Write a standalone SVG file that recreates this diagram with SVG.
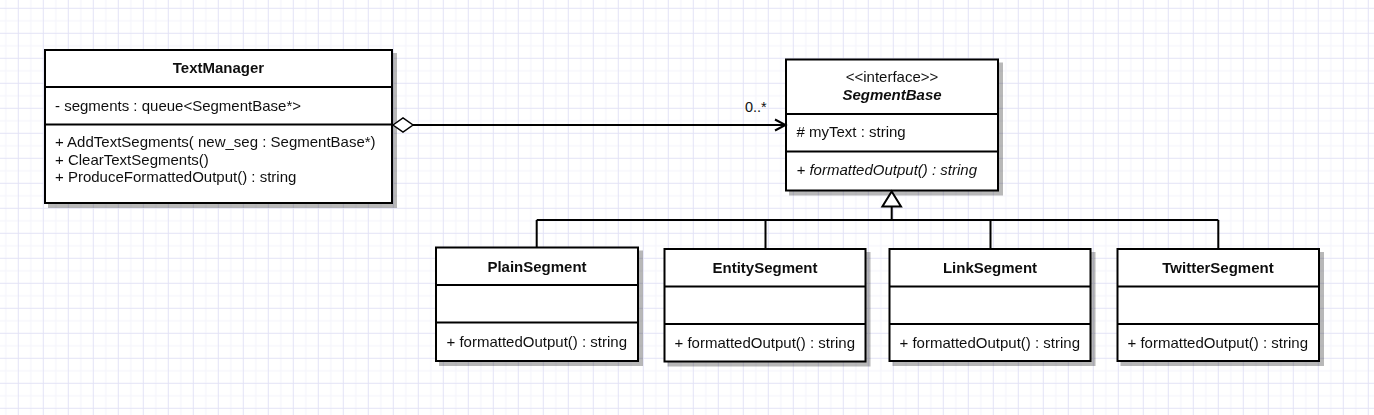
<svg xmlns="http://www.w3.org/2000/svg" width="1374" height="415" viewBox="0 0 1374 415">
<style>
.box{fill:#fff;stroke:#000;stroke-width:2}
.div{stroke:#000;stroke-width:2;fill:none}
.conn{stroke:#000;stroke-width:2;fill:none}
text{font-family:"Liberation Sans",Arial,sans-serif;font-size:15px;fill:#111}
.title{font-weight:bold;text-anchor:middle}
.mid{text-anchor:middle}
.it{font-style:italic}
.lbl{font-size:14.5px}
</style>
<defs>
<pattern id="grid" patternUnits="userSpaceOnUse" x="17.8" y="7.8" width="25" height="25">
<path d="M13 0V25M0 13H25" stroke="#f3f3fb" stroke-width="1"/>
<path d="M0.5 0V25M0 0.5H25" stroke="#e3e3f6" stroke-width="1"/>
</pattern>
<filter id="sh" x="-5%" y="-5%" width="115%" height="120%">
<feFlood flood-color="#000" flood-opacity="0.28"/>
<feComposite in2="SourceAlpha" operator="in"/>
<feOffset dx="4" dy="4" result="s"/>
<feMerge><feMergeNode in="s"/><feMergeNode in="SourceGraphic"/></feMerge>
</filter>
</defs>
<rect width="1374" height="415" fill="#fff"/>
<rect width="1374" height="415" fill="url(#grid)"/>

<g id="TextManager" filter="url(#sh)">
<rect class="box" x="45" y="50" width="347" height="153"/>
<line class="div" x1="45" y1="87" x2="392" y2="87"/>
<line class="div" x1="45" y1="124.5" x2="392" y2="124.5"/>
<text class="title" x="218.5" y="72.5">TextManager</text>
<text x="55" y="111">- segments : queue&lt;SegmentBase*&gt;</text>
<text x="55" y="147">+ AddTextSegments( new_seg : SegmentBase*)</text>
<text x="55" y="164.5">+ ClearTextSegments()</text>
<text x="55" y="182">+ ProduceFormattedOutput() : string</text>
</g>

<g id="SegmentBase" filter="url(#sh)">
<rect class="box" x="786" y="59.5" width="212" height="131"/>
<line class="div" x1="786" y1="114" x2="998" y2="114"/>
<line class="div" x1="786" y1="151.5" x2="998" y2="151.5"/>
<text class="mid" x="892" y="82">&lt;&lt;interface&gt;&gt;</text>
<text class="title it" x="892" y="99.5">SegmentBase</text>
<text x="796.5" y="137"># myText : string</text>
<text class="it" x="796.5" y="175">+ formattedOutput() : string</text>
</g>

<g id="PlainSegment" filter="url(#sh)">
<rect class="box" x="436" y="247.5" width="202" height="113.5"/>
<line class="div" x1="436" y1="285" x2="638" y2="285"/>
<line class="div" x1="436" y1="322.5" x2="638" y2="322.5"/>
<text class="title" x="537" y="272">PlainSegment</text>
<text x="446.5" y="347">+ formattedOutput() : string</text>
</g>

<g id="EntitySegment" filter="url(#sh)">
<rect class="box" x="664.5" y="249" width="201" height="112.5"/>
<line class="div" x1="664.5" y1="286.5" x2="865.5" y2="286.5"/>
<line class="div" x1="664.5" y1="324" x2="865.5" y2="324"/>
<text class="title" x="765" y="273">EntitySegment</text>
<text x="674.5" y="348">+ formattedOutput() : string</text>
</g>

<g id="LinkSegment" filter="url(#sh)">
<rect class="box" x="889.5" y="249" width="201" height="112"/>
<line class="div" x1="889.5" y1="286.5" x2="1090.5" y2="286.5"/>
<line class="div" x1="889.5" y1="324" x2="1090.5" y2="324"/>
<text class="title" x="990" y="273">LinkSegment</text>
<text x="899.5" y="348">+ formattedOutput() : string</text>
</g>

<g id="TwitterSegment" filter="url(#sh)">
<rect class="box" x="1117.5" y="249" width="201.5" height="112"/>
<line class="div" x1="1117.5" y1="286.5" x2="1319" y2="286.5"/>
<line class="div" x1="1117.5" y1="324" x2="1319" y2="324"/>
<text class="title" x="1218" y="273">TwitterSegment</text>
<text x="1127.5" y="348">+ formattedOutput() : string</text>
</g>

<g id="connectors">
<line class="conn" x1="413" y1="125" x2="785" y2="125"/>
<path d="M393 125L403 118L413 125L403 132Z" fill="#fff" stroke="#000" stroke-width="1.5"/>
<path class="conn" d="M775 119.5L785.5 125L775 130.5"/>
<text class="lbl" x="745" y="112">0..*</text>
<path class="conn" d="M891.7 206.5V220M536.7 220H1218.3M536.7 220V247.5M765.5 220V249M990.5 220V249M1218.3 220V249"/>
<path d="M891.7 191.5L901 206.5H882.4Z" fill="#fff" stroke="#000" stroke-width="2"/>
</g>
</svg>
